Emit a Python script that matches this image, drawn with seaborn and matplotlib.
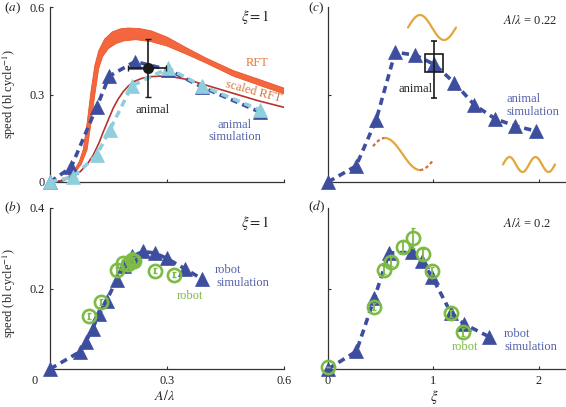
import numpy as np
import pandas as pd
import matplotlib
matplotlib.use('Agg')
import matplotlib.pyplot as plt
import matplotlib.transforms as mtransforms
import seaborn as sns

# ---------------- data ----------------
# (a) xi = 1, speed vs A/lambda
rft_upper_x = [0.015, 0.04, 0.06, 0.075, 0.085, 0.095, 0.105, 0.115, 0.125, 0.14, 0.16,
               0.18, 0.20, 0.23, 0.26, 0.30, 0.35, 0.40, 0.47, 0.54, 0.60]
rft_upper_y = [0.0, 0.012, 0.035, 0.07, 0.11, 0.20, 0.31, 0.40, 0.45, 0.49, 0.515,
               0.525, 0.528, 0.526, 0.518, 0.497, 0.46, 0.425, 0.382, 0.35, 0.322]
rft_lower_x = [0.03, 0.06, 0.08, 0.095, 0.105, 0.115, 0.125, 0.135, 0.15, 0.17, 0.19,
               0.22, 0.26, 0.30, 0.35, 0.40, 0.47, 0.54, 0.60]
rft_lower_y = [0.0, 0.025, 0.06, 0.11, 0.20, 0.30, 0.39, 0.43, 0.458, 0.475, 0.484,
               0.488, 0.481, 0.466, 0.438, 0.408, 0.363, 0.33, 0.302]
srft_x = [0.015, 0.05, 0.077, 0.095, 0.111, 0.125, 0.137, 0.15, 0.162, 0.175, 0.188, 0.2,
          0.214, 0.235, 0.256, 0.28, 0.308, 0.35, 0.385, 0.43, 0.47, 0.53, 0.6]
srft_y = [0.0, 0.012, 0.035, 0.06, 0.093, 0.132, 0.173, 0.215, 0.253, 0.285, 0.31, 0.328,
          0.344, 0.355, 0.361, 0.363, 0.362, 0.352, 0.338, 0.32, 0.304, 0.28, 0.256]
sim_dark_a_x = [0.0, 0.054, 0.12, 0.152, 0.218, 0.303, 0.389, 0.538]
sim_dark_a_y = [0.0, 0.05, 0.258, 0.363, 0.413, 0.385, 0.326, 0.24]
sim_light_a_x = [0.0, 0.06, 0.12, 0.154, 0.21, 0.303, 0.389, 0.538]
sim_light_a_y = [0.0, 0.018, 0.093, 0.18, 0.33, 0.39, 0.33, 0.247]
animal_a_x, animal_a_y = 0.25, 0.39
animal_a_xerr = [[0.05], [0.048]]
animal_a_yerr = [[0.10], [0.10]]

# (b) xi = 1, robot
sim_b_x = [0.0, 0.077, 0.092, 0.109, 0.126, 0.145, 0.171, 0.19, 0.21, 0.239, 0.269, 0.299, 0.346, 0.391]
sim_b_y = [0.0, 0.043, 0.068, 0.100, 0.137, 0.170, 0.222, 0.255, 0.280, 0.292, 0.288, 0.275, 0.249, 0.223]
robot_b_x = [0.101, 0.131, 0.171, 0.186, 0.200, 0.209, 0.215, 0.268, 0.318]
robot_b_y = [0.132, 0.166, 0.245, 0.264, 0.262, 0.270, 0.268, 0.244, 0.234]
robot_b_err = [0.008, 0.008, 0.008, 0.008, 0.010, 0.020, 0.010, 0.006, 0.006]

# (c) A/lambda = 0.22, animal
sim_c_x = [0.0, 0.267, 0.457, 0.638, 0.829, 1.01, 1.2, 1.39, 1.59, 1.78, 1.97]
sim_c_y = [0.0, 0.055, 0.213, 0.445, 0.435, 0.403, 0.34, 0.264, 0.216, 0.192, 0.175]
animal_c_x, animal_c_y = 1.01, 0.409
animal_c_yerr = [[0.12], [0.075]]

# (d) A/lambda = 0.2, robot
sim_d_x = [0.0, 0.27, 0.44, 0.58, 0.80, 0.89, 0.99, 1.17, 1.29, 1.53]
sim_d_y = [0.0, 0.044, 0.176, 0.288, 0.290, 0.268, 0.228, 0.138, 0.112, 0.080]
robot_d_x = [0.0, 0.44, 0.53, 0.60, 0.71, 0.81, 0.90, 0.99, 1.17, 1.28]
robot_d_y = [0.005, 0.155, 0.245, 0.267, 0.303, 0.325, 0.285, 0.244, 0.138, 0.093]
robot_d_err = [0.0, 0.008, 0.010, 0.012, 0.014, 0.025, 0.012, 0.010, 0.008, 0.010]

# ---------------- style ----------------
sns.set_theme(style='ticks')
plt.rcParams['font.family'] = ['Liberation Serif', 'DejaVu Serif']
plt.rcParams['mathtext.fontset'] = 'stix'
plt.rcParams['font.size'] = 8

DARK = '#3E4E9F'
LIGHT = '#8FCFDD'
RFT_C = '#F4673E'
SRFT_C = '#B8322E'
GREEN = '#7CBB45'
WAVE = '#E2A63C'
WAVE_D = '#D0703A'
TXT_BLUE = '#5562AA'
TXT = '#222222'
FS = 9

W, H = 566, 407
fig = plt.figure(figsize=(W / 100, H / 100), dpi=100)


def add_ax(l, r, t, b):
    return fig.add_axes([l / W, 1 - b / H, (r - l) / W, (b - t) / H])


axA = add_ax(50, 284, 7, 182)
axB = add_ax(50, 284, 208, 369)
axC = add_ax(328, 565, 7, 182)
axD = add_ax(328, 565, 208, 369)


def style(ax):
    sns.despine(ax=ax)
    for s in ['left', 'bottom']:
        ax.spines[s].set_color('#333333')
        ax.spines[s].set_linewidth(0.9)
    ax.tick_params(direction='in', length=2.5, width=0.8, color='#333333',
                   labelsize=8.8, pad=4, labelcolor=TXT)
    ax.set_facecolor('none')
    ax.set_xlabel('')
    ax.set_ylabel('')


def sim_line(ax, x, y, color, z=3):
    df = pd.DataFrame({'x': x, 'y': y})
    sns.lineplot(data=df, x='x', y='y', ax=ax, color=color, lw=2.6,
                 linestyle=(0, (2.0, 1.4)), marker='^', markersize=10.5,
                 markeredgecolor=color, markeredgewidth=0.5,
                 sort=False, estimator=None, zorder=z, clip_on=False)


def robot(ax, x, y, err):
    ax.errorbar(x, y, yerr=err, fmt='none', ecolor=GREEN, elinewidth=1.3,
                capsize=1.5, capthick=1.0, zorder=6, clip_on=False)
    df = pd.DataFrame({'x': x, 'y': y})
    sns.lineplot(data=df, x='x', y='y', ax=ax, color=GREEN, linestyle='none',
                 marker='o', markersize=9.5, markerfacecolor='none',
                 markeredgecolor=GREEN, markeredgewidth=1.9,
                 sort=False, estimator=None, zorder=7, clip_on=False)


# ---------------- (a) ----------------
ax = axA
ax.fill(np.r_[rft_upper_x, rft_lower_x[::-1]], np.r_[rft_upper_y, rft_lower_y[::-1]],
        color=RFT_C, ec='#E9552C', lw=0.6, zorder=1)
sns.lineplot(x=srft_x, y=srft_y, ax=ax, color=SRFT_C, lw=1.2, sort=False,
             estimator=None, zorder=2)
sim_line(ax, sim_dark_a_x, sim_dark_a_y, DARK, z=3)
sim_line(ax, sim_light_a_x, sim_light_a_y, LIGHT, z=4)
ax.errorbar([animal_a_x], [animal_a_y], xerr=animal_a_xerr, yerr=animal_a_yerr,
            fmt='o', color='k', ms=7, capsize=2.5, elinewidth=1.2, capthick=1.0, zorder=8)
ax.set_xlim(0, 0.6)
ax.set_ylim(0, 0.6)
ax.set_xticks([0.3, 0.6])
ax.set_xticklabels([])
ax.set_yticks([0, 0.3, 0.6])
ax.set_yticklabels(['0', '0.3', '0.6'])
style(ax)
ax.set_ylabel('speed (bl cycle$^{-1}$)', fontsize=8.8, color=TXT)
ax.yaxis.set_label_coords(-0.135, 0.5)
ax.text(0.526, 0.566, r'$\xi = 1$', ha='center', va='center', fontsize=10.5, color=TXT)
ax.text(0.531, 0.408, 'RFT', ha='center', va='center', fontsize=FS, color='#E5783E')
ax.text(0.523, 0.309, 'scaled RFT', ha='center', va='center', fontsize=FS,
        color='#D2773A', rotation=-15)
ax.text(0.262, 0.247, 'animal', ha='center', va='center', fontsize=FS, color=TXT)
ax.text(0.474, 0.175, 'animal\nsimulation', ha='center', va='center', fontsize=FS,
        color=TXT_BLUE, linespacing=1.1)

# ---------------- (b) ----------------
ax = axB
sim_line(ax, sim_b_x, sim_b_y, DARK, z=3)
robot(ax, robot_b_x, robot_b_y, robot_b_err)
ax.set_xlim(0, 0.6)
ax.set_ylim(0, 0.4)
ax.set_xticks([0, 0.3, 0.6])
ax.set_xticklabels(['0', '0.3', '0.6'])
ax.set_yticks([0.2, 0.4])
ax.set_yticklabels(['0.2', '0.4'])
style(ax)
shift = mtransforms.ScaledTranslation(-0.15, 0, fig.dpi_scale_trans)
lab0 = ax.get_xticklabels()[0]
lab0.set_transform(lab0.get_transform() + shift)
ax.set_ylabel('speed (bl cycle$^{-1}$)', fontsize=8.8, color=TXT)
ax.yaxis.set_label_coords(-0.135, 0.47)
ax.set_xlabel(r'$A/\lambda$', fontsize=10, color=TXT)
ax.xaxis.set_label_coords(0.49, -0.125)
ax.text(0.526, 0.363, r'$\xi = 1$', ha='center', va='center', fontsize=10.5, color=TXT)
ax.text(0.359, 0.182, 'robot', ha='center', va='center', fontsize=FS, color=GREEN)
ax.text(0.456, 0.246, 'robot', ha='center', va='center', fontsize=FS, color=TXT_BLUE)
ax.text(0.495, 0.214, 'simulation', ha='center', va='center', fontsize=FS, color=TXT_BLUE)

# ---------------- (c) ----------------
ax = axC
sim_line(ax, sim_c_x, sim_c_y, DARK, z=3)
ax.errorbar([animal_c_x], [animal_c_y], yerr=animal_c_yerr, fmt='s', ms=13,
            mfc='none', mec='k', mew=1.2, color='k', capsize=2.5, elinewidth=1.2,
            capthick=1.0, zorder=8)
ax.set_xlim(0, 2.25)
ax.set_ylim(0, 0.6)
ax.set_xticks([1, 2])
ax.set_xticklabels([])
ax.set_yticks([0.3])
ax.set_yticklabels([])
style(ax)
ax.text(1.914, 0.552, r'$A/\lambda$ = 0.22', ha='center', va='center', fontsize=FS, color=TXT)
ax.text(0.99, 0.318, 'animal', ha='right', va='center', fontsize=FS, color=TXT)
ax.text(1.86, 0.285, 'animal', ha='center', va='center', fontsize=FS, color=TXT_BLUE)
ax.text(1.946, 0.239, 'simulation', ha='center', va='center', fontsize=FS, color=TXT_BLUE)

# body-shape icons (decorative, axes-fraction coordinates)
def icon(x0, x1, yc, amp, t0, t1, color, ls='-'):
    t = np.linspace(t0, t1, 80)
    px = x0 + (t - t0) / (t1 - t0) * (x1 - x0)
    py = yc - amp * np.sin(t)
    axC.plot((px - 328) / 237, (182 - py) / 175, color=color, lw=1.6, ls=ls,
             transform=axC.transAxes, solid_capstyle='round', zorder=2)

icon(408, 456, 27.5, 12.5, 0, 2 * np.pi, WAVE)
icon(373, 385, 154, 16, 0.5, np.pi / 2, WAVE_D, ls=(0, (1.5, 1.2)))
icon(385, 420, 154, 16, np.pi / 2, 3 * np.pi / 2, WAVE)
icon(420, 433, 154, 16, 3 * np.pi / 2, 3 * np.pi / 2 + 1.17, WAVE_D, ls=(0, (1.5, 1.2)))
icon(503, 555, 164.5, 7.5, 0, 4 * np.pi, WAVE)

# ---------------- (d) ----------------
ax = axD
sim_line(ax, sim_d_x, sim_d_y, DARK, z=3)
robot(ax, robot_d_x, robot_d_y, robot_d_err)
ax.set_xlim(0, 2.25)
ax.set_ylim(0, 0.4)
ax.set_xticks([0, 1, 2])
ax.set_xticklabels(['0', '1', '2'])
ax.set_yticks([0.2])
ax.set_yticklabels([])
style(ax)
ax.set_xlabel(r'$\xi$', fontsize=10.5, color=TXT)
ax.xaxis.set_label_coords(0.45, -0.12)
ax.text(1.892, 0.362, r'$A/\lambda$ = 0.2', ha='center', va='center', fontsize=FS, color=TXT)
ax.text(1.298, 0.054, 'robot', ha='center', va='center', fontsize=FS, color=GREEN)
ax.text(1.797, 0.087, 'robot', ha='center', va='center', fontsize=FS, color=TXT_BLUE)
ax.text(1.93, 0.055, 'simulation', ha='center', va='center', fontsize=FS, color=TXT_BLUE)

# panel letters
for lab, (px, py) in {'a': (12, 8), 'b': (12, 208), 'c': (316, 8), 'd': (316, 207)}.items():
    fig.text(px / W, 1 - py / H, '(' + r'$\it{' + lab + '}$' + ')', ha='center', va='center',
             fontsize=9.5, color=TXT)

fig.savefig('out.png', dpi=100)
